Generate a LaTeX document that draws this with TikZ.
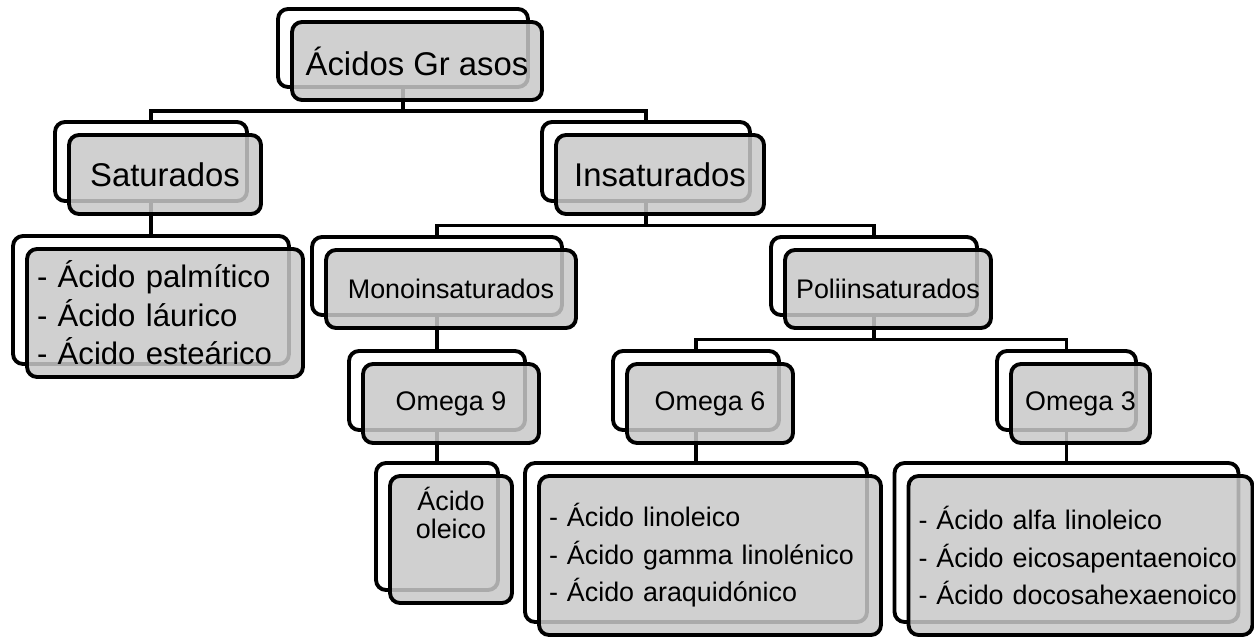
\documentclass[tikz,border=0pt]{standalone}
\usepackage{fontspec}
\setmainfont{Liberation Sans}
\usetikzlibrary{calc,backgrounds}
\definecolor{boxgray}{RGB}{200,200,200}

\begin{document}
\begin{tikzpicture}
  [
    x = 0.02cm, y = -0.02cm,
    box/.style = {rounded corners=0.2cm, line width=2.2pt, inner sep=0pt},
    back/.style = {box, draw, fill=white},
    front/.style = {box, draw, fill=boxgray, fill opacity=0.85, text opacity=1, shift={(14,13)}},
    big/.style = {font=\fontsize{18.7}{22}\selectfont},
    mid/.style = {font=\fontsize{15.3}{16.5}\selectfont},
    satlist/.style = {font=\fontsize{17.7}{22}\selectfont, align=left, inner xsep=0.2cm, text width=5.12cm},
    omlist/.style = {font=\fontsize{15.3}{21.3}\selectfont, align=left, inner xsep=0.2cm},
    link/.style = {line width=2.2pt},
  ]
  \useasboundingbox (0,0) rectangle (1254,638);

  % level 0
  \node[back, minimum width=5cm, minimum height=1.56cm] (rootB) at (403,48) {};
  \node[front, big, minimum width=5cm, minimum height=1.56cm] (root) at (rootB) {Ácidos Gr asos};

  % level 1
  \node[back, minimum width=3.84cm, minimum height=1.58cm] (satB) at (151,161.5) {};
  \node[front, big, minimum width=3.84cm, minimum height=1.58cm] (sat) at (satB) {Saturados};
  \node[back, minimum width=4.16cm, minimum height=1.58cm] (insatB) at (646,161.5) {};
  \node[front, big, minimum width=4.16cm, minimum height=1.58cm] (insat) at (insatB) {Insaturados};

  % level 2
  \node[back, minimum width=5.52cm, minimum height=2.56cm] (satlB) at (151,300) {};
  \node[front, satlist, minimum height=2.56cm] (satl) at (satlB)
    {- Ácido palmítico\\- Ácido láurico\\- Ácido esteárico};
  \node[back, minimum width=5cm, minimum height=1.56cm] (monoB) at (437,276) {};
  \node[front, mid, minimum width=5cm, minimum height=1.56cm] (mono) at (monoB) {Monoinsaturados};
  \node[back, minimum width=4.12cm, minimum height=1.56cm] (poliB) at (874,276) {};
  \node[front, mid, minimum width=4.12cm, minimum height=1.56cm] (poli) at (poliB) {Poliinsaturados};

  % level 3
  \node[back, minimum width=3.52cm, minimum height=1.58cm] (om9B) at (437,390.5) {};
  \node[front, mid, minimum width=3.52cm, minimum height=1.58cm] (om9) at (om9B) {Omega 9};
  \node[back, minimum width=3.32cm, minimum height=1.58cm] (om6B) at (696,390.5) {};
  \node[front, mid, minimum width=3.32cm, minimum height=1.58cm] (om6) at (om6B) {Omega 6};
  \node[back, minimum width=2.78cm, minimum height=1.58cm] (om3B) at (1066.5,390.5) {};
  \node[front, mid, minimum width=2.78cm, minimum height=1.58cm] (om3) at (om3B) {Omega 3};

  % level 4
  \node[back, minimum width=2.44cm, minimum height=2.54cm] (oleB) at (437,526.5) {};
  \node[front, mid, minimum width=2.44cm, minimum height=2.54cm] (ole) at (oleB)
    {\raisebox{1.36cm}{\begin{tabular}{@{}c@{}}Ácido\\[-1pt]oleico\end{tabular}}};
  \node[back, minimum width=6.84cm, minimum height=3.18cm] (om6lB) at (696,542.5) {};
  \node[front, omlist, text width=6.44cm, minimum height=3.18cm] (om6l) at (om6lB)
    {- Ácido linoleico\\- Ácido gamma linolénico\\- Ácido araquidónico};
  \node[back, minimum width=6.88cm, minimum height=3.18cm] (om3lB) at (1066.5,542.5) {};
  \node[front, omlist, text width=6.48cm, minimum height=3.18cm] (om3l) at (om3lB)
    {- Ácido alfa linoleico\\- Ácido eicosapentaenoico\\- Ácido docosahexaenoico};

  % connectors
  \begin{scope}[on background layer]
    \coordinate (e1) at ($(root.south)!.5!(satB.north)$);
    \coordinate (e2) at ($(insat.south)!.5!(monoB.north)$);
    \coordinate (e3) at ($(poli.south)!.5!(om6B.north)$);
    \draw[link] (rootB.south) -- (rootB.south |- e1);
    \draw[link] (satB.north) |- (e1) -| (insatB.north);
    \draw[link] (insatB.south) -- (insatB.south |- e2);
    \draw[link] (monoB.north) |- (e2) -| (poliB.north);
    \draw[link] (poliB.south) -- (poliB.south |- e3);
    \draw[link] (om6B.north) |- (e3) -| (om3B.north);
    \draw[link] (satB.south) -- (satlB.north);
    \draw[link] (monoB.south) -- (om9B.north);
    \draw[link] (om9B.south) -- (oleB.north);
    \draw[link] (om6B.south) -- (om6lB.north);
    \draw[link] (om3B.south) -- (om3lB.north);
  \end{scope}
\end{tikzpicture}
\end{document}
